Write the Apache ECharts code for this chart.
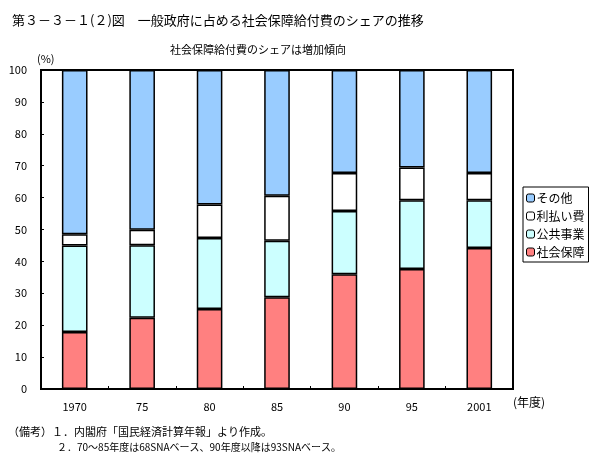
<!DOCTYPE html>
<html><head><meta charset="utf-8">
<script src="https://cdn.jsdelivr.net/npm/echarts@6/dist/echarts.min.js"></script>
<style>html,body{margin:0;padding:0;background:#fff}#c{width:608px;height:462px}</style>
</head><body><div id="c"></div>
<script>
const categories = ['1970','75','80','85','90','95','2001'];
const shakaiHosho = [17.9, 22.3, 25.1, 28.8, 36.0, 37.6, 44.2];
const kokyoJigyo = [27.1, 22.8, 22.2, 17.7, 19.8, 21.6, 15.0];
const haraiHi = [3.5, 4.8, 10.5, 14.1, 11.9, 10.2, 8.5];
const sonota = [51.5, 50.1, 42.2, 39.4, 32.3, 30.6, 32.3];
const yTicks = [0,10,20,30,40,50,60,70,80,90,100];

const F = '"Noto Sans CJK JP", sans-serif';
const chart = echarts.init(document.getElementById('c'), null, {renderer:'canvas'});
const mk = (name, data, color) => ({
  name, type:'bar', stack:'s', data, barWidth:'38%',
  itemStyle:{color, borderColor:'#000', borderWidth:1.5},
  emphasis:{disabled:true}, animation:false
});
chart.setOption({
  animation:false,
  textStyle:{fontFamily:F},
  title:[
    {text:'第３－３－１(２)図　一般政府に占める社会保障給付費のシェアの推移', left:7, top:9,
     textStyle:{fontFamily:F, fontSize:13, fontWeight:'normal', color:'#000'}},
    {text:'社会保障給付費のシェアは増加傾向', left:165, top:39,
     textStyle:{fontFamily:F, fontSize:11, fontWeight:'normal', color:'#000'}}
  ],
  graphic:[
    {type:'text', left:37, top:53, style:{text:'(%)', font:'11px '+F, fill:'#000'}},
    {type:'text', left:513, top:396, style:{text:'(年度)', font:'12px '+F, fill:'#000'}},
    {type:'text', left:8, top:426, style:{text:'（備考）１．内閣府「国民経済計算年報」より作成。', font:'11px '+F, fill:'#000'}},
    {type:'text', left:57, top:442, style:{text:'２．70～85年度は68SNAベース、90年度以降は93SNAベース。', font:'10px '+F, fill:'#000'}}
  ],
  legend:{
    orient:'vertical', left:523, top:187, itemWidth:8, itemHeight:8, itemGap:6,
    padding:[5,4,4,3], borderColor:'#000', borderWidth:1,
    data:['その他','利払い費','公共事業','社会保障'],
    textStyle:{fontFamily:F, fontSize:12, color:'#000', padding:[0,0,0,-3]},
    itemStyle:{borderColor:'#000', borderWidth:1}
  },
  grid:{left:41, right:95, top:70, bottom:73, show:true, borderColor:'#000', borderWidth:2},
  xAxis:{
    type:'category', data:categories,
    axisLine:{lineStyle:{color:'#000', width:2}},
    axisTick:{show:true, inside:true, length:3, lineStyle:{color:'#000'}},
    axisLabel:{color:'#000', fontSize:11, fontFamily:F, margin:12}
  },
  yAxis:{
    type:'value', min:0, max:100, interval:10,
    axisLine:{show:true, lineStyle:{color:'#000', width:2}},
    axisTick:{show:true, inside:true, length:3, lineStyle:{color:'#000'}},
    splitLine:{show:false},
    axisLabel:{color:'#000', fontSize:11, fontFamily:F, margin:14,
      formatter:v => yTicks.includes(v) ? String(v) : ''}
  },
  series:[
    mk('社会保障', shakaiHosho, '#FF8080'),
    mk('公共事業', kokyoJigyo, '#CCFFFF'),
    mk('利払い費', haraiHi, '#FFFFFF'),
    mk('その他', sonota, '#99CCFF')
  ]
});
</script></body></html>
